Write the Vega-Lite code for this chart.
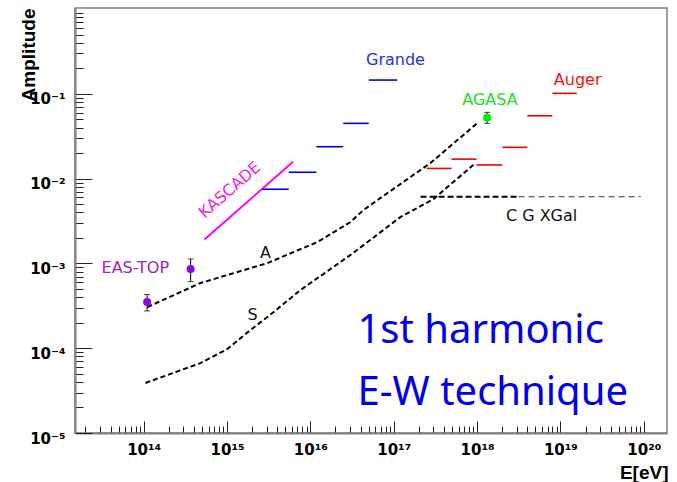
{
  "$schema": "https://vega.github.io/schema/vega-lite/v6.json",
  "width": 592,
  "height": 425,
  "autosize": {"type": "none"},
  "padding": {"left": 75, "top": 8, "right": 10, "bottom": 49},
  "background": "white",
  "config": {"view": {"stroke": "#808080", "strokeWidth": 1.5}, "axis": {"grid": false}},
  "resolve": {"scale": {"color": "independent"}},
  "datasets": {
    "curves": [
      {"series": "A", "E": 1.11e14, "A": 3.06e-4},
      {"series": "A", "E": 4.8e14, "A": 5.87e-4},
      {"series": "A", "E": 3.05e15, "A": 1.01e-3},
      {"series": "A", "E": 1.22e16, "A": 1.79e-3},
      {"series": "A", "E": 3.03e16, "A": 3.08e-3},
      {"series": "A", "E": 4.34e16, "A": 4.27e-3},
      {"series": "A", "E": 1.2e17, "A": 8.63e-3},
      {"series": "A", "E": 2.76e17, "A": 1.528e-2},
      {"series": "A", "E": 1.01e18, "A": 4.53e-2},
      {"series": "S", "E": 1.05e14, "A": 3.89e-5},
      {"series": "S", "E": 4.8e14, "A": 6.68e-5},
      {"series": "S", "E": 1.01e15, "A": 9.8e-5},
      {"series": "S", "E": 1.91e15, "A": 1.64e-4},
      {"series": "S", "E": 3.05e15, "A": 2.33e-4},
      {"series": "S", "E": 7.6e15, "A": 4.85e-4},
      {"series": "S", "E": 3.03e16, "A": 1.26e-3},
      {"series": "S", "E": 1.2e17, "A": 3.52e-3},
      {"series": "S", "E": 3.0e17, "A": 5.74e-3},
      {"series": "S", "E": 9.57e17, "A": 1.528e-2}
    ],
    "xgal": [
      {"part": "thick", "E": 2.1e17, "A": 6.12e-3},
      {"part": "thick", "E": 3.15e18, "A": 6.12e-3},
      {"part": "thin", "E": 3.15e18, "A": 6.12e-3},
      {"part": "thin", "E": 9.2e19, "A": 6.12e-3}
    ],
    "kascade": [
      {"E": 5.36e14, "A": 1.92e-3},
      {"E": 6.2e15, "A": 1.58e-2}
    ],
    "segments": [
      {"exp": "Grande", "E": 2.66e15, "E2": 5.5e15, "A": 7.5e-3},
      {"exp": "Grande", "E": 5.5e15, "E2": 1.18e16, "A": 1.19e-2},
      {"exp": "Grande", "E": 1.18e16, "E2": 2.48e16, "A": 2.38e-2},
      {"exp": "Grande", "E": 2.48e16, "E2": 5.02e16, "A": 4.49e-2},
      {"exp": "Grande", "E": 5.02e16, "E2": 1.1e17, "A": 0.1455},
      {"exp": "Auger", "E": 2.48e17, "E2": 4.94e17, "A": 0.0132},
      {"exp": "Auger", "E": 4.94e17, "E2": 9.86e17, "A": 0.0170},
      {"exp": "Auger", "E": 9.86e17, "E2": 2.01e18, "A": 0.0145},
      {"exp": "Auger", "E": 2.01e18, "E2": 4.01e18, "A": 0.0234},
      {"exp": "Auger", "E": 4.01e18, "E2": 8.0e18, "A": 0.0552},
      {"exp": "Auger", "E": 8.0e18, "E2": 1.57e19, "A": 0.1014}
    ],
    "points": [
      {"exp": "EAS-TOP", "E": 1.1e14, "A": 3.5e-4, "lo": 2.75e-4, "hi": 4.3e-4},
      {"exp": "EAS-TOP", "E": 3.66e14, "A": 8.6e-4, "lo": 6.1e-4, "hi": 1.13e-3},
      {"exp": "AGASA", "E": 1.32e18, "A": 0.0522, "lo": 0.0449, "hi": 0.0605}
    ],
    "caps": [
      {"E": 1.1e14, "A": 2.75e-4}, {"E": 1.1e14, "A": 4.3e-4},
      {"E": 3.66e14, "A": 6.1e-4}, {"E": 3.66e14, "A": 1.13e-3},
      {"E": 1.32e18, "A": 0.0449}, {"E": 1.32e18, "A": 0.0605}
    ],
    "labels": [
      {"label": "Grande", "E": 1.05e17, "A": 0.2506},
      {"label": "Auger", "E": 1.61e19, "A": 0.1455},
      {"label": "AGASA", "E": 1.43e18, "A": 0.0845},
      {"label": "C G XGal", "E": 5.94e18, "A": 3.62e-3},
      {"label": "EAS-TOP", "E": 7.94e13, "A": 8.83e-4},
      {"label": "A", "E": 2.89e15, "A": 1.33e-3},
      {"label": "S", "E": 2.02e15, "A": 2.47e-4}
    ],
    "kaslabel": [{"label": "KASCADE", "E": 1.08e15, "A": 7.34e-3}],
    "bigtext": [
      {"label": "1st harmonic", "E": 3.67e16, "A": 1.14e-4},
      {"label": "E-W technique", "E": 3.67e16, "A": 2.14e-5}
    ]
  },
  "encoding": {
    "x": {
      "field": "E", "type": "quantitative",
      "scale": {"type": "log", "domain": [1.5e13, 1.9e20], "nice": false},
      "axis": {
        "title": "E[eV]", "titleFont": "Liberation Sans", "titleFontWeight": "bold", "titleFontSize": 19, "titleColor": "black",
        "titleAlign": "right", "titleAnchor": "end", "titleX": 593, "titleY": 39, "titleBaseline": "middle",
        "values": [2e13,3e13,4e13,5e13,6e13,7e13,8e13,9e13,
          1e14,2e14,3e14,4e14,5e14,6e14,7e14,8e14,9e14,
          1e15,2e15,3e15,4e15,5e15,6e15,7e15,8e15,9e15,
          1e16,2e16,3e16,4e16,5e16,6e16,7e16,8e16,9e16,
          1e17,2e17,3e17,4e17,5e17,6e17,7e17,8e17,9e17,
          1e18,2e18,3e18,4e18,5e18,6e18,7e18,8e18,9e18,
          1e19,2e19,3e19,4e19,5e19,6e19,7e19,8e19,9e19,1e20],
        "labelExpr": "datum.value == 1e14 ? '10¹⁴' : datum.value == 1e15 ? '10¹⁵' : datum.value == 1e16 ? '10¹⁶' : datum.value == 1e17 ? '10¹⁷' : datum.value == 1e18 ? '10¹⁸' : datum.value == 1e19 ? '10¹⁹' : datum.value == 1e20 ? '10²⁰' : ''",
        "labelFont": "DejaVu Sans", "labelFontWeight": "bold", "labelFontSize": 15, "labelColor": "black",
        "labelOverlap": false, "labelBound": false, "labelFlush": false, "labelPadding": 21,
        "tickSize": {"condition": {"test": "abs(log(datum.value)/LN10 - round(log(datum.value)/LN10)) < 1e-6", "value": -12}, "value": -7},
        "tickColor": "#222", "tickWidth": 1,
        "domainColor": "#808080", "domainWidth": 2, "grid": false
      }
    },
    "y": {
      "field": "A", "type": "quantitative",
      "scale": {"type": "log", "domain": [1e-5, 1.03], "nice": false},
      "axis": {
        "title": "Amplitude", "titleFont": "Liberation Sans", "titleFontWeight": "bold", "titleFontSize": 19, "titleColor": "black",
        "titleAngle": -90, "titleAlign": "right", "titleX": -47, "titleY": 0, "titleBaseline": "middle",
        "values": [1e-5,2e-5,3e-5,4e-5,5e-5,6e-5,7e-5,8e-5,9e-5,
          1e-4,2e-4,3e-4,4e-4,5e-4,6e-4,7e-4,8e-4,9e-4,
          1e-3,2e-3,3e-3,4e-3,5e-3,6e-3,7e-3,8e-3,9e-3,
          1e-2,2e-2,3e-2,4e-2,5e-2,6e-2,7e-2,8e-2,9e-2,
          1e-1,2e-1,3e-1,4e-1,5e-1,6e-1,7e-1,8e-1,9e-1],
        "labelExpr": "datum.value == 1e-5 ? '10⁻⁵' : datum.value == 1e-4 ? '10⁻⁴' : datum.value == 1e-3 ? '10⁻³' : datum.value == 1e-2 ? '10⁻²' : datum.value == 1e-1 ? '10⁻¹' : ''",
        "labelFont": "DejaVu Sans", "labelFontWeight": "bold", "labelFontSize": 15, "labelColor": "black",
        "labelAlign": "right", "labelBaseline": "middle", "labelOffset": 5,
        "labelOverlap": false, "labelBound": false, "labelFlush": false, "labelPadding": 27,
        "tickSize": {"condition": {"test": "abs(log(datum.value)/LN10 - round(log(datum.value)/LN10)) < 1e-6", "value": -17}, "value": -8},
        "tickColor": "#222", "tickWidth": 1,
        "domainColor": "#808080", "domainWidth": 2, "grid": false
      }
    }
  },
  "layer": [
    {
      "data": {"name": "curves"},
      "mark": {"type": "line", "color": "black", "strokeWidth": 2, "strokeDash": [5, 3]},
      "encoding": {"detail": {"field": "series"}}
    },
    {
      "data": {"name": "xgal"},
      "transform": [{"filter": "datum.part == 'thick'"}],
      "mark": {"type": "line", "color": "black", "strokeWidth": 2, "strokeDash": [6, 3]},
      "encoding": {}
    },
    {
      "data": {"name": "xgal"},
      "transform": [{"filter": "datum.part == 'thin'"}],
      "mark": {"type": "line", "color": "#333", "strokeWidth": 1.2, "strokeDash": [6, 4]},
      "encoding": {}
    },
    {
      "data": {"name": "kascade"},
      "mark": {"type": "line", "color": "#ff00ff", "strokeWidth": 2},
      "encoding": {}
    },
    {
      "data": {"name": "segments"},
      "mark": {"type": "rule", "strokeWidth": 1.6},
      "encoding": {
        "x2": {"field": "E2"},
        "color": {"field": "exp", "type": "nominal", "scale": {"domain": ["Grande", "Auger"], "range": ["#0000ee", "#ee0000"]}, "legend": null}
      }
    },
    {
      "data": {"name": "points"},
      "mark": {"type": "rule", "color": "black", "strokeWidth": 1},
      "encoding": {
        "y": {"field": "lo", "type": "quantitative", "scale": {"type": "log", "domain": [1e-5, 1.03], "nice": false}},
        "y2": {"field": "hi"}
      }
    },
    {
      "data": {"name": "caps"},
      "mark": {"type": "tick", "orient": "horizontal", "color": "black", "size": 6, "thickness": 1}
    },
    {
      "data": {"name": "points"},
      "mark": {"type": "point", "filled": true, "shape": "circle", "size": 64, "opacity": 1},
      "encoding": {
        "color": {"field": "exp", "type": "nominal", "scale": {"domain": ["EAS-TOP", "AGASA"], "range": ["#9400e8", "#00ee00"]}, "legend": null}
      }
    },
    {
      "data": {"name": "labels"},
      "mark": {"type": "text", "font": "DejaVu Sans", "fontSize": 16, "align": "center", "baseline": "middle"},
      "encoding": {
        "text": {"field": "label"},
        "color": {"field": "label", "type": "nominal", "scale": {"domain": ["Grande", "Auger", "AGASA", "C G XGal", "EAS-TOP", "A", "S"], "range": ["#2233dd", "#ee1111", "#22dd22", "#111111", "#9922cc", "#111111", "#111111"]}, "legend": null}
      }
    },
    {
      "data": {"name": "kaslabel"},
      "mark": {"type": "text", "font": "DejaVu Sans", "fontSize": 16, "align": "center", "baseline": "middle", "angle": 319, "color": "#ee22dd"},
      "encoding": {"text": {"field": "label"}}
    },
    {
      "data": {"name": "bigtext"},
      "mark": {"type": "text", "font": "Noto Sans", "fontSize": 40, "align": "left", "baseline": "alphabetic", "color": "#0000ee"},
      "encoding": {"text": {"field": "label"}}
    }
  ]
}
